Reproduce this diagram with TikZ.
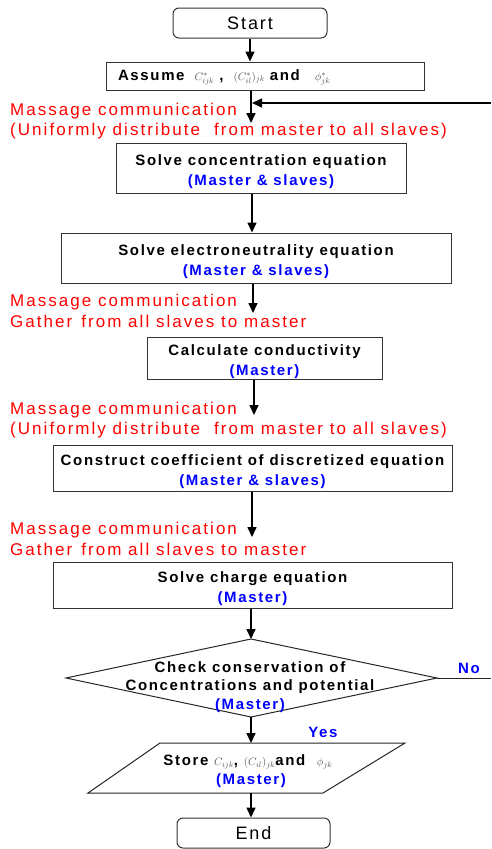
\documentclass[tikz,border=0pt]{standalone}
\usepackage{fontspec}
\setmainfont{Liberation Sans}
\newfontfamily\spf[LetterSpace=11]{Liberation Sans}
\newfontfamily\rdf[LetterSpace=12]{Liberation Sans}
\usetikzlibrary{arrows.meta}
\newcommand{\mth}[1]{{\color{black!65}\fontsize{11}{13}\selectfont$#1$}}
\newcommand{\tp}{\rule{0pt}{18pt}}
\begin{document}
\begin{tikzpicture}[x=1pt,y=-1pt,
  box/.style={draw=black!80, line width=1pt, inner sep=0pt, align=center,
    font=\spf\bfseries\fontsize{15}{20}\selectfont},
  term/.style={draw=black!80, line width=1pt, inner sep=0pt, rounded corners=6pt,
    font=\spf\fontsize{18}{20}\selectfont},
  arr/.style={line width=1.6pt, -{Triangle[length=10pt,width=9pt]}},
  thinln/.style={line width=1pt, black!85},
  msg/.style={text=red, anchor=west, align=left, inner sep=0pt,
    font=\rdf\fontsize{17}{20.5}\selectfont},
  lbl/.style={text=blue, inner sep=0pt, font=\spf\bfseries\fontsize{15}{18}\selectfont},
  txt/.style={inner sep=0pt, align=center, font=\spf\bfseries\fontsize{15}{18.5}\selectfont}
]
\useasboundingbox (0,0) rectangle (491,849);

% nodes
\node[term, minimum width=154, minimum height=30] (start) at (250,23) {Start};
\node[box, minimum height=28, text width=294, inner xsep=12pt, align=left,
  text height=11pt, text depth=3pt] (assume) at (265,76)
  {Assume \ \mth{C^*_{ijk}} , \ \mth{(C^*_{il})_{jk}} and \ \ \mth{\phi^*_{jk}}};
\node[msg] (m1) at (10,121) {Massage communication\\(Uniformly distribute\hspace{14pt}from master to all slaves)};
\node[box, minimum width=290, minimum height=50] (b1) at (261,168)
  {\tp Solve concentration equation\\{\color{blue}(Master \& slaves)}};
\node[box, minimum width=390, minimum height=50] (b2) at (256,258)
  {\tp Solve electroneutrality equation\\{\color{blue}(Master \& slaves)}};
\node[msg] (m2) at (10,311) {Massage communication\\Gather\hspace{9pt}from all slaves to master};
\node[box, minimum width=235, minimum height=39] (b3) at (264.5,358.5)
  {\tp Calculate conductivity\\{\color{blue}(Master)}};
\node[msg] (m3) at (10,420) {Massage communication\\(Uniformly distribute\hspace{14pt}from master to all slaves)};
\node[box, minimum width=399, minimum height=46] (b4) at (252.5,468)
  {\tp Construct coefficient of discretized equation\\{\color{blue}(Master \& slaves)}};
\node[msg] (m4) at (10,539) {Massage communication\\Gather\hspace{9pt}from all slaves to master};
\node[box, minimum width=399, minimum height=46] (b5) at (252.5,585)
  {\tp Solve charge equation\\{\color{blue}(Master)}};

% decision diamond
\coordinate (dtop) at (251,639);
\coordinate (dright) at (437,678);
\coordinate (dbot) at (251,717);
\coordinate (dleft) at (66,678);
\draw[thinln] (dtop) -- (dright) -- (dbot) -- (dleft) -- cycle;
\node[txt] (dtext) at (250,687) {Check conservation of\\Concentrations and potential\\{\color{blue}(Master)}};
\node[lbl] (no) at (469,668) {No};
\node[lbl] (yes) at (323,732) {Yes};
\coordinate (noend) at (491,678);
\draw[thinln] (dright) -- (noend);

% store parallelogram
\coordinate (stl) at (160,743);
\coordinate (str) at (405,743);
\coordinate (sbr) at (323,793);
\coordinate (sbl) at (88,793);
\draw[thinln] (stl) -- (str) -- (sbr) -- (sbl) -- cycle;
\node[txt] (store) at (248,771) {Store \mth{C_{ijk}}, \mth{(C_{il})_{jk}}and \ \mth{\phi_{jk}}\\\hspace*{6pt}{\color{blue}(Master)}};
\coordinate (stop) at (251,743);
\coordinate (sbot) at (251,793);

\node[term, minimum width=153, minimum height=30] (end) at (253.5,833) {End};

% connectors
\coordinate (x0) at (250,0);
\coordinate (x1) at (251,0);
\coordinate (x2) at (252,0);
\draw[arr] (start.south -| x0) -- (assume.north -| x0);
\coordinate (a1) at (251,123);
\draw[arr] (assume.south -| a1) -- (a1);
\coordinate (loopin) at (491,103);
\coordinate (j1) at (252,103);
\draw[arr] (loopin) -- (j1);
\draw[arr] (b1.south -| x2) -- (b2.north -| x2);
\coordinate (a2) at (253,313);
\draw[arr] (b2.south -| a2) -- (a2);
\coordinate (a3) at (254,415);
\draw[arr] (b3.south -| a3) -- (a3);
\coordinate (a4) at (252,537);
\draw[arr] (b4.south -| a4) -- (a4);
\draw[arr] (b5.south -| x1) -- (dtop);
\draw[arr] (dbot) -- (stop);
\draw[arr] (sbot) -- (end.north -| x1);
\end{tikzpicture}
\end{document}
